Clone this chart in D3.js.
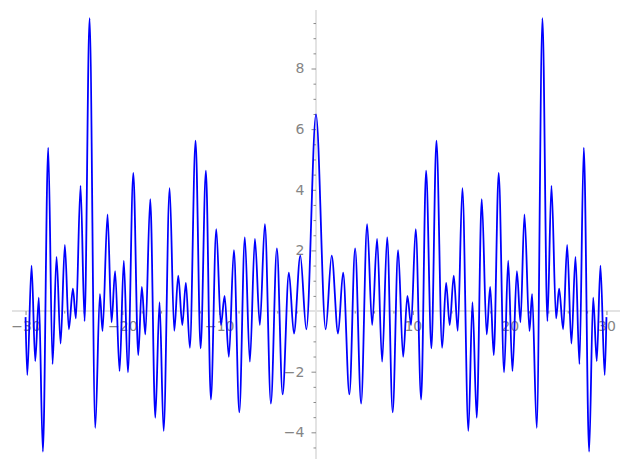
<!DOCTYPE html>
<html>
<head>
<meta charset="utf-8">
<script src="https://cdn.jsdelivr.net/npm/d3@7"></script>
<style>
  body { margin: 0; background: #fff; }
  svg text { font-family: "DejaVu Sans", sans-serif; }
</style>
</head>
<body>
<div id="chart"></div>
<script>
// Chart size
var width = 627;
var height = 470;

// Local extrema of the curve (x, y)
var xValues = [
  -30.00, -29.82, -29.38, -29.00, -28.63, -28.21, -27.66, -27.21, -26.80, -26.38,
  -25.94, -25.53, -25.11, -24.80, -24.32, -23.90, -23.39, -22.80, -22.32, -22.05,
  -21.53, -21.12, -20.75, -20.29, -19.85, -19.43, -18.87, -18.36, -17.99, -17.63,
  -17.12, -16.60, -16.16, -15.74, -15.12, -14.64, -14.23, -13.81, -13.44, -13.03,
  -12.44, -11.92, -11.37, -10.86, -10.30, -9.82, -9.44, -9.00, -8.48, -7.92,
  -7.35, -6.83, -6.31, -5.80, -5.28, -4.66, -4.04, -3.45, -2.80, -2.28,
  -1.62, -1.00, 0.00,
  1.00, 1.62, 2.28, 2.80, 3.45, 4.04, 4.66, 5.28, 5.80, 6.31,
  6.83, 7.35, 7.92, 8.48, 9.00, 9.44, 9.82, 10.30, 10.86, 11.37,
  11.92, 12.44, 13.03, 13.44, 13.81, 14.23, 14.64, 15.12, 15.74, 16.16,
  16.60, 17.12, 17.63, 17.99, 18.36, 18.87, 19.43, 19.85, 20.29, 20.75,
  21.12, 21.53, 22.05, 22.32, 22.80, 23.39, 23.90, 24.32, 24.80, 25.11,
  25.53, 25.94, 26.38, 26.80, 27.21, 27.66, 28.21, 28.63, 29.00, 29.38,
  29.82, 30.00
];
var yValues = [
  -0.20, -2.11, 1.50, -1.65, 0.44, -4.64, 5.39, -1.75, 1.79, -1.07,
  2.18, -0.60, 0.74, -0.24, 4.13, -0.33, 9.66, -3.85, 0.56, -0.66,
  3.19, -0.37, 1.32, -1.98, 1.66, -2.02, 4.56, -1.45, 0.80, -0.77,
  3.69, -3.52, 0.29, -3.95, 4.05, -0.65, 1.17, -0.46, 0.93, -1.21,
  5.62, -1.23, 4.63, -2.92, 2.70, -0.46, 0.50, -1.51, 2.01, -3.34,
  2.43, -1.67, 2.38, -0.46, 2.87, -3.05, 2.07, -2.75, 1.27, -0.74,
  1.83, -0.60, 6.49,
  -0.60, 1.83, -0.74, 1.27, -2.75, 2.07, -3.05, 2.87, -0.46, 2.38,
  -1.67, 2.43, -3.34, 2.01, -1.51, 0.50, -0.46, 2.70, -2.92, 4.63,
  -1.23, 5.62, -1.21, 0.93, -0.46, 1.17, -0.65, 4.05, -3.95, 0.29,
  -3.52, 3.69, -0.77, 0.80, -1.45, 4.56, -2.02, 1.66, -1.98, 1.32,
  -0.37, 3.19, -0.66, 0.56, -3.85, 9.66, -0.33, 4.13, -0.24, 0.74,
  -0.60, 2.18, -1.07, 1.79, -1.75, 5.39, -4.64, 0.44, -1.65, 1.50,
  -2.11, -0.20
];

// Tick values
var xMajorTicks = [-30, -20, -10, 10, 20, 30];
var xMinorTicks = d3.range(-30, 31, 2).filter(function (d) { return d % 10 !== 0; });
var yMajorTicks = [-4, -2, 2, 4, 6, 8];
var yMinorTicks = d3.range(-4.5, 10, 0.5).filter(function (d) { return d % 2 !== 0; });

var data = xValues.map(function (x, i) { return { x: x, y: yValues[i] }; });

var x = d3.scaleLinear().domain([-31.4, 31.4]).range([12, 620]);
var y = d3.scaleLinear().domain([-4.88, 9.93]).range([459, 10]);

var svg = d3.select("#chart")
    .append("svg")
    .attr("width", width)
    .attr("height", height);

svg.append("rect")
    .attr("width", width)
    .attr("height", height)
    .attr("fill", "#fff");

// axis lines through the origin
svg.append("line")
    .attr("x1", x.range()[0]).attr("x2", x.range()[1])
    .attr("y1", y(0)).attr("y2", y(0))
    .attr("stroke", "#e3e3e3")
    .attr("stroke-width", 2);
svg.append("line")
    .attr("x1", x(0)).attr("x2", x(0))
    .attr("y1", y.range()[0]).attr("y2", y.range()[1])
    .attr("stroke", "#e3e3e3")
    .attr("stroke-width", 2);

function styleAxis(g) {
    g.select(".domain").remove();
    g.selectAll(".tick line").attr("stroke", "#8a8a8a").attr("stroke-width", 1);
    g.selectAll(".tick text")
        .attr("fill", "#858585")
        .style("font-size", "14px")
        .style("font-family", "DejaVu Sans, sans-serif");
}

// x axis ticks
svg.append("g")
    .attr("transform", "translate(0," + y(0) + ")")
    .call(d3.axisBottom(x).tickValues(xMinorTicks).tickSize(2.5).tickFormat(""))
    .call(styleAxis);
svg.append("g")
    .attr("transform", "translate(0," + y(0) + ")")
    .call(d3.axisBottom(x).tickValues(xMajorTicks).tickSize(4).tickPadding(6))
    .call(styleAxis);

// y axis ticks
svg.append("g")
    .attr("transform", "translate(" + x(0) + ",0)")
    .call(d3.axisLeft(y).tickValues(yMinorTicks).tickSize(2.5).tickFormat(""))
    .call(styleAxis);
svg.append("g")
    .attr("transform", "translate(" + x(0) + ",0)")
    .call(d3.axisLeft(y).tickValues(yMajorTicks).tickSize(4.5).tickPadding(7))
    .call(styleAxis);

// the curve
var line = d3.line()
    .x(function (d) { return x(d.x); })
    .y(function (d) { return y(d.y); })
    .curve(d3.curveMonotoneX);

svg.append("path")
    .datum(data)
    .attr("fill", "none")
    .attr("stroke", "#0000ff")
    .attr("stroke-width", 1.8)
    .attr("stroke-linejoin", "round")
    .attr("d", line);
</script>
</body>
</html>
